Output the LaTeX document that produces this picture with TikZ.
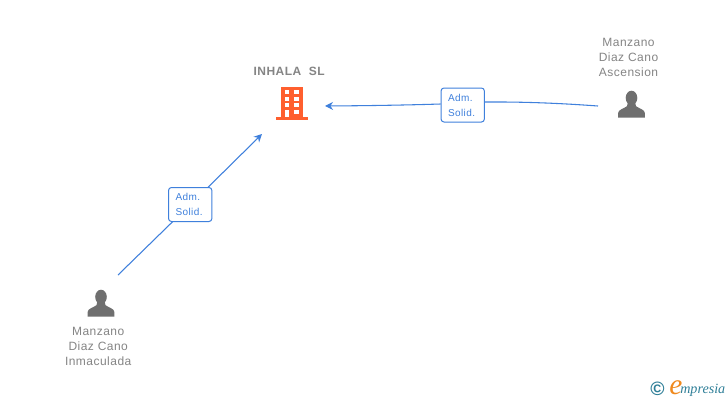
\documentclass[tikz,border=0pt]{standalone}
\usepackage{fontspec}
\setmainfont{Liberation Sans}[LetterSpace=4]
\newfontfamily\logofont{Liberation Serif}
\usetikzlibrary{arrows.meta}
\definecolor{lbl}{HTML}{858585}
\definecolor{lnk}{HTML}{3F80DC}
\definecolor{bld}{HTML}{FF5F2E}
\definecolor{per}{HTML}{6F6F6F}
\definecolor{teal}{HTML}{2F7F98}
\definecolor{orng}{HTML}{F08A1E}
\tikzset{
  x=0.75pt,y=-0.75pt,
  name label/.style={text=lbl,font=\fontsize{9}{11.25}\selectfont,align=center,inner sep=0pt},
  role box/.style={draw=lnk,line width=0.75pt,rounded corners=2.2pt,fill=white,text=lnk,
    minimum width=32.5pt,minimum height=25.5pt,inner sep=0pt,text width=22pt,align=left,
    font=\fontsize{7.5}{11.25}\selectfont},
  link/.style={draw=lnk,line width=0.8pt},
  arrowed/.style={-{Stealth[length=6pt,width=6pt]}},
  icon spot/.style={minimum width=0pt,minimum height=0pt,inner sep=0pt},
  person/.pic={
    \fill[per] (0,-6.3) ellipse (5.8 and 7.2);
    \fill[per] (-13.4,13.5) -- (-13.4,9) .. controls (-13.4,5.5) and (-8,4.5) .. (-4.5,2)
      -- (-3.5,-2) -- (3.5,-2) -- (4.5,2) .. controls (8,4.5) and (13.4,5.5) .. (13.4,9) -- (13.4,13.5) -- cycle;
  },
}
\begin{document}
\begin{tikzpicture}
\useasboundingbox[fill=white] (0,0) rectangle (728,400);
% building
\fill[bld] (280.7,86.7) rectangle (303.3,117.5);
\fill[bld] (276,116.8) rectangle (307.8,119.5);
\foreach \yy in {90,96.7,103.3}{
  \fill[white] (284.7,\yy) rectangle (289,\yy+4);
  \fill[white] (294,\yy) rectangle (298.8,\yy+4);
}
\fill[white] (284.7,110) rectangle (289,117);
\fill[white] (294,110) rectangle (298.8,114);
% persons
\pic at (631.5,104.2) {person};
\pic at (101,303.2) {person};
% anchors
\node[icon spot] (company) at (292,103) {};
\node[icon spot] (ascension) at (631,104) {};
\node[icon spot] (inmaculada) at (101,303) {};
\coordinate (ascEnd) at (598,106);
\coordinate (compIn) at (325,106);
\coordinate (inmEnd) at (118,275);
\coordinate (compIn2) at (262,134);
% role boxes
\node[role box] (boxR) at (462.7,105) {Adm.\\Solid.};
\node[role box] (boxL) at (190.2,204.5) {Adm.\\Solid.};
% connectors
\draw[link] (ascEnd) .. controls (550,102.5) and (515,101.8) .. (boxR.east |- 0,102);
\draw[link,arrowed] (boxR.west |- 0,104) .. controls (410,105) and (370,105.7) .. (compIn);
\draw[link] (inmEnd) -- (172.5,221.8);
\draw[link,arrowed] (208,187.3) -- (compIn2);
% labels
\node[name label,font=\fontsize{9}{11.25}\bfseries\selectfont] (companyName) at (289.2,71.5) {INHALA\ \ SL};
\node[name label] (ascName) at (628.5,57) {Manzano\\Diaz Cano\\Ascension};
\node[name label] (inmName) at (98.2,346) {Manzano\\Diaz Cano\\Inmaculada};
% logo
\node[inner sep=0pt,text=teal,font=\bfseries\fontsize{14.5}{14.5}\selectfont] (copy) at (657.5,388.5) {©};
\node[inner sep=0pt,text=orng,font=\logofont\itshape\fontsize{22}{22}\selectfont] (logoE) at (676,387.5) {e};
\node[inner sep=0pt,text=teal,anchor=base west,font=\logofont\itshape\fontsize{10.6}{11}\selectfont] (logoRest) at (680,393) {mpresia};
\end{tikzpicture}
\end{document}
